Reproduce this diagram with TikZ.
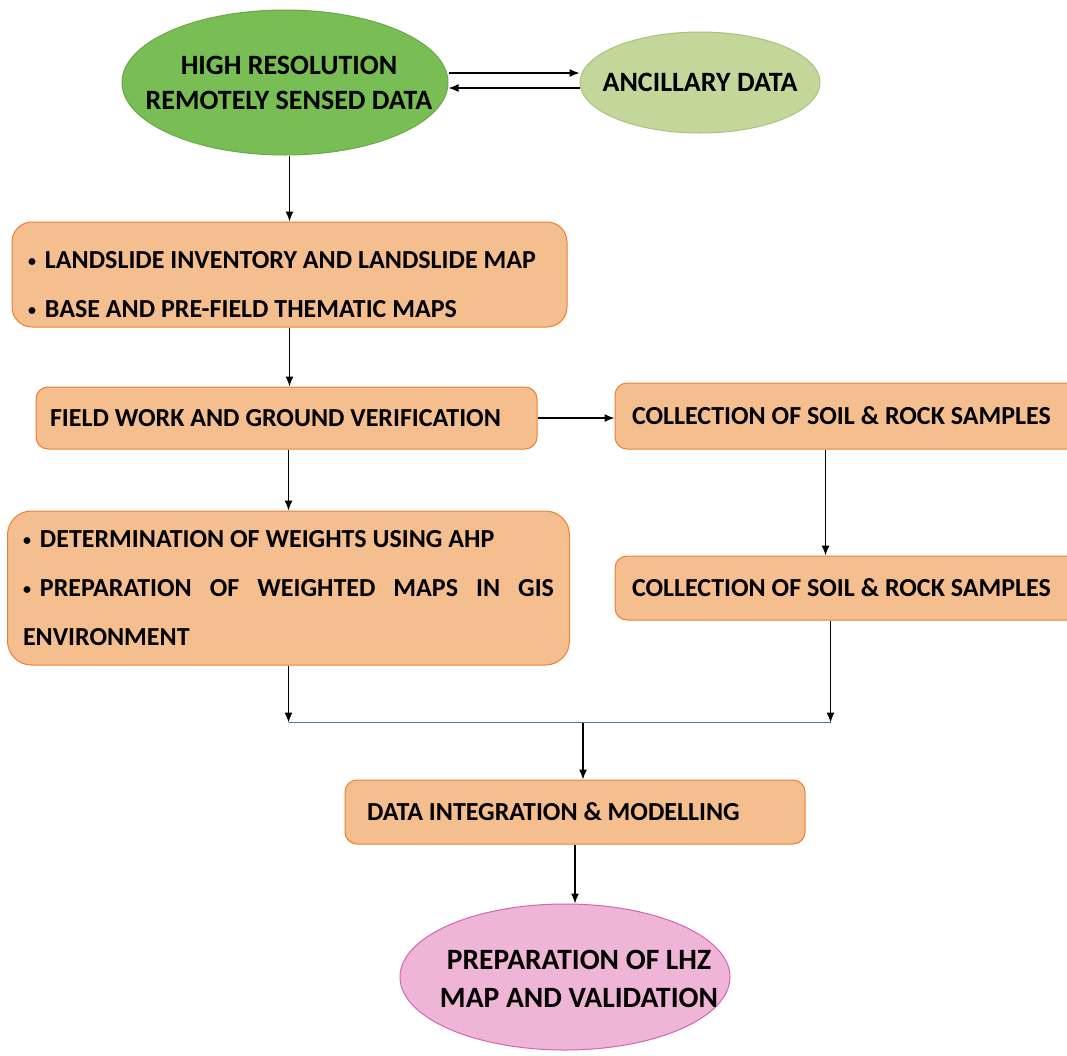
\documentclass[tikz,border=0pt]{standalone}
\usepackage{fontspec}
\setmainfont{Carlito}
\usepackage{tikz}
\usetikzlibrary{shapes.geometric,arrows.meta}
\definecolor{leafgreen}{HTML}{78BE55}
\definecolor{leafline}{HTML}{6AA84A}
\definecolor{palegreen}{HTML}{C4D79B}
\definecolor{paleline}{HTML}{A9C27D}
\definecolor{boxfill}{HTML}{F5BE8F}
\definecolor{boxline}{HTML}{ED7D31}
\definecolor{lhzpink}{HTML}{EFB5D7}
\definecolor{lhzline}{HTML}{D664B0}
\definecolor{joinblue}{HTML}{4472C4}
\newcommand\dotmark{\raisebox{1.5pt}{\fontsize{16}{16}\selectfont\textbullet}\hspace{9pt}}
\begin{document}
\begin{tikzpicture}[x=1pt,y=-1pt,font=\bfseries\fontsize{26}{49}\selectfont,
proc/.style={rectangle,draw=boxline,fill=boxfill,line width=1pt,rounded corners=12pt,align=left,inner xsep=16pt,inner ysep=0pt,
   execute at begin node={\spaceskip=0pt\xspaceskip=0pt}},
oval/.style={ellipse,line width=1pt,inner sep=0pt},
ovaltext/.style 2 args={align=center,font=\bfseries\fontsize{#1}{#2}\selectfont},
arr/.style={-{Latex[length=10pt,width=8pt]},line width=1.3pt}]
\useasboundingbox (0,0) rectangle (1067,1055);
% ovals
\node[oval,draw=leafline,fill=leafgreen,minimum width=326,minimum height=145,
   label={[ovaltext={28}{35},xshift=4pt]center:{HIGH RESOLUTION\\REMOTELY SENSED DATA}}] (hrd) at (285,82.5) {};
\node[oval,draw=paleline,fill=palegreen,minimum width=240,minimum height=101,
   label={[ovaltext={28}{35}]center:{ANCILLARY DATA}}] (anc) at (700,82.5) {};
\node[oval,draw=lhzline,fill=lhzpink,minimum width=330,minimum height=146,
   label={[ovaltext={29.5}{38},xshift=14pt,yshift=-2pt]center:{PREPARATION OF LHZ\\MAP AND VALIDATION}}] (lhz) at (565,977) {};
% boxes
\node[proc,rounded corners=20pt,text width=523,minimum height=105] (inv) at (289.5,274.5)
   {\rule{0pt}{37pt}\dotmark LANDSLIDE INVENTORY AND LANDSLIDE MAP\\\dotmark BASE AND PRE-FIELD THEMATIC MAPS};
\node[proc,text width=473,minimum height=62,inner xsep=14pt] (field) at (286.5,418)
   {FIELD WORK AND GROUND VERIFICATION};
\node[proc,text width=431,minimum height=66,inner xsep=17pt] (soil) at (847.5,416)
   {COLLECTION OF SOIL \& ROCK SAMPLES};
\node[proc,rounded corners=24pt,align=justify,text width=531,minimum height=154,inner xsep=15.5pt] (ahp) at (288.5,588)
   {\dotmark DETERMINATION OF WEIGHTS USING AHP\\\dotmark PREPARATION OF WEIGHTED MAPS IN GIS\linebreak ENVIRONMENT};
\node[proc,text width=431,minimum height=64,inner xsep=17pt] (rock) at (847.5,588)
   {COLLECTION OF SOIL \& ROCK SAMPLES};
\node[proc,text width=416,minimum height=64,inner xsep=22pt] (model) at (575,812)
   {DATA INTEGRATION \& MODELLING};
% connectors
\draw[arr] ([yshift=9.5pt]hrd.east) -- ([yshift=9.5pt]hrd.east -| anc.west);
\draw[arr] ([yshift=-5.5pt]hrd.east -| anc.west) -- ([yshift=-5.5pt]hrd.east);
\draw[arr] (hrd.south -| inv.north) -- (inv.north);
\draw[arr] (inv.south) -- (inv.south |- field.north);
\draw[arr] (field.east) -- (field.east -| soil.west);
\draw[arr] (ahp.north |- field.south) -- (ahp.north);
\draw[arr] ([xshift=-22pt]soil.south) -- ([xshift=-22pt]soil.south |- rock.north);
\coordinate (jl) at ([yshift=-57pt]ahp.south);
\coordinate (jr) at ([xshift=-17pt]rock.south |- jl);
\draw[arr] (ahp.south) -- (jl);
\draw[arr] ([xshift=-17pt]rock.south) -- (jr);
\draw[joinblue,line width=1.3pt] (jl) -- (jr);
\draw[arr] ([xshift=8pt]model.north |- jl) -- ([xshift=8pt]model.north);
\draw[arr] (model.south) -- (model.south |- lhz.north);
\end{tikzpicture}
\end{document}
